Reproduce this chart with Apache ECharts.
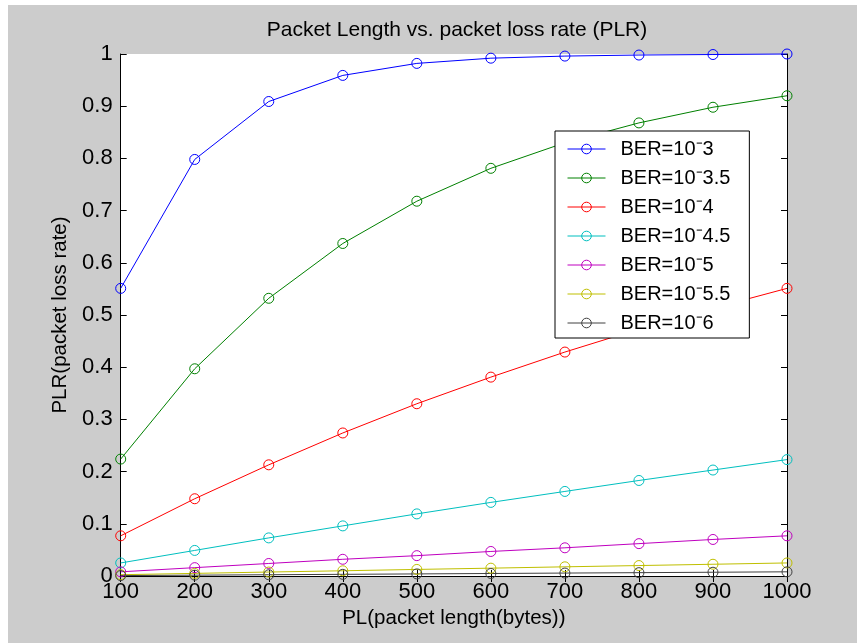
<!DOCTYPE html>
<html>
<head>
<meta charset="utf-8">
<script src="https://cdn.jsdelivr.net/npm/echarts@6/dist/echarts.min.js"></script>
<style>
  html, body { margin: 0; padding: 0; background: #ffffff; }
  #chart { position: absolute; left: 8px; top: 5px; width: 849px; height: 638px; }
</style>
</head>
<body>
<div id="chart"></div>
<script>
// packet length (bytes)
var pl = [100, 200, 300, 400, 500, 600, 700, 800, 900, 1000];
// PLR per BER
var ber3  = [0.551, 0.798, 0.909, 0.959, 0.982, 0.992, 0.996, 0.998, 0.999, 1.0];
var ber35 = [0.224, 0.397, 0.532, 0.637, 0.718, 0.781, 0.830, 0.868, 0.898, 0.920];
var ber4  = [0.077, 0.148, 0.213, 0.274, 0.330, 0.381, 0.429, 0.473, 0.513, 0.551];
var ber45 = [0.025, 0.049, 0.073, 0.096, 0.119, 0.141, 0.162, 0.183, 0.203, 0.223];
var ber5  = [0.008, 0.016, 0.024, 0.032, 0.039, 0.047, 0.054, 0.062, 0.070, 0.077];
var ber55 = [0.0025, 0.005, 0.0076, 0.010, 0.0126, 0.015, 0.0176, 0.020, 0.0225, 0.025];
var ber6  = [0.0008, 0.0016, 0.0024, 0.0032, 0.004, 0.0048, 0.0056, 0.0064, 0.0072, 0.008];

var names = ["BER=10\u207B3", "BER=10\u207B3.5", "BER=10\u207B4", "BER=10\u207B4.5",
             "BER=10\u207B5", "BER=10\u207B5.5", "BER=10\u207B6"];
var values = [ber3, ber35, ber4, ber45, ber5, ber55, ber6];
var colors = ["#0000ff", "#008000", "#ff0000", "#00bfbf", "#bf00bf", "#bfbf00", "#404040"];

var font = "Arial, 'Liberation Sans', sans-serif";

var series = names.map(function (name, i) {
    return {
        name: name,
        type: "line",
        xAxisIndex: 0,
        yAxisIndex: 0,
        clip: false,
        symbol: "circle",
        symbolSize: 10,
        data: pl.map(function (x, j) { return [x, values[i][j]]; }),
        lineStyle: { color: colors[i], width: 1 },
        // hollow markers, the line shows through
        itemStyle: { color: "transparent", borderColor: colors[i], borderWidth: 1 },
        emphasis: { disabled: true }
    };
});

// shared axis look (box with inward ticks, MATLAB style)
function axisBase(extra) {
    var base = {
        type: "value",
        axisLine: { show: true, lineStyle: { color: "#000", width: 1 } },
        axisTick: { show: true, inside: true, length: 6, lineStyle: { color: "#000" } },
        splitLine: { show: false },
        axisLabel: { show: false }
    };
    return Object.assign(base, extra);
}

var tickText = { show: true, fontFamily: font, fontSize: 22, color: "#000",
                 formatter: function (v) { return String(v); } };

var chart = echarts.init(document.getElementById("chart"));
chart.setOption({
    backgroundColor: "#cccccc",
    animation: false,
    title: {
        text: "Packet Length vs. packet loss rate (PLR)",
        left: 449,
        top: 15,
        padding: 0,
        textAlign: "center",
        textStyle: { fontFamily: font, fontSize: 21, fontWeight: "normal", color: "#000" }
    },
    grid: {
        left: 112.7,
        right: 70,
        top: 49,
        bottom: 67,
        show: true,
        backgroundColor: "#ffffff",
        borderWidth: 0
    },
    legend: {
        orient: "vertical",
        left: 547,
        top: 126,
        padding: [8, 19, 5, 12],
        backgroundColor: "#ffffff",
        borderColor: "#000",
        borderWidth: 1,
        borderRadius: 0,
        itemWidth: 38,
        itemHeight: 12,
        itemGap: 9,
        selectedMode: false,
        lineStyle: { width: 1 },
        itemStyle: { borderWidth: 1 },
        textStyle: { fontFamily: font, fontSize: 20, lineHeight: 20, color: "#000", padding: [0, 0, 0, 10] },
        data: names
    },
    xAxis: [
        axisBase({
            position: "bottom",
            min: 100,
            max: 1000,
            interval: 100,
            name: "PL(packet length(bytes))",
            nameLocation: "middle",
            nameGap: 32,
            nameTextStyle: { fontFamily: font, fontSize: 20.5, color: "#000" },
            axisLabel: Object.assign({ margin: 5 }, tickText)
        }),
        axisBase({ position: "top", min: 100, max: 1000, interval: 100 })
    ],
    yAxis: [
        axisBase({
            position: "left",
            min: 0,
            max: 1,
            interval: 0.1,
            name: "PLR(packet loss rate)",
            nameLocation: "middle",
            nameGap: 43,
            nameTextStyle: { fontFamily: font, fontSize: 20.5, color: "#000" },
            axisLabel: Object.assign({ margin: 8 }, tickText)
        }),
        axisBase({ position: "right", min: 0, max: 1, interval: 0.1 })
    ],
    series: series
});
</script>
</body>
</html>
